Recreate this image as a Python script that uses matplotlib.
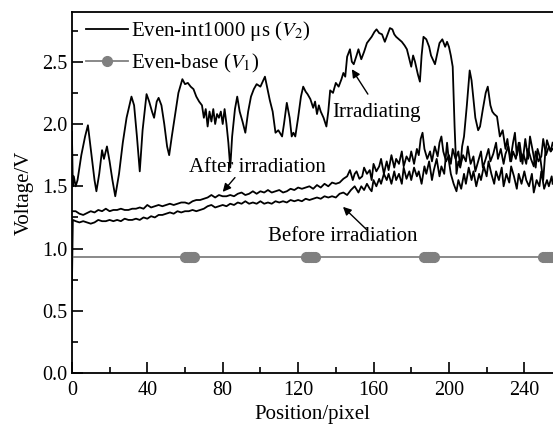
import matplotlib
matplotlib.use('Agg')
import matplotlib.pyplot as plt

plt.rcParams['font.family'] = ['Liberation Serif', 'DejaVu Serif']
plt.rcParams['mathtext.fontset'] = 'stix'

# Irradiating curve, Even-int1000 us (V2)
irr_pos = [0, 0.5, 1, 2, 3, 5, 7, 8.5, 10, 12, 13, 14.5, 16, 17, 18.6, 20, 21.5, 23, 25, 27,
           29, 30.5, 31.6, 33, 34.5, 36, 37.5, 39.6, 41, 42.5, 43.6, 45, 46, 47.5, 49, 50.5, 51.6, 53, 55, 56.5,
           58.6, 60, 61.5, 63, 64.5, 66, 67.5, 69, 70, 71, 72, 73, 74, 75, 76, 77, 78, 79, 80, 81,
           82, 83, 84, 85, 86.5, 87.7, 89, 90.5, 92, 93.5, 95, 96.5, 98, 100, 101.2, 102.4, 103.5, 105, 106.5, 108,
           109.5, 111.5, 112.5, 114, 115.5, 116.6, 117.5, 118.5, 120, 121.5, 122.7, 124, 125, 126.5, 128, 129, 130, 131, 132, 133.5,
           135, 136, 137, 138.5, 140, 141.5, 143, 144, 145, 146, 147.5, 148.5, 149.5, 151, 152, 153.5, 155, 156.5, 158, 159,
           160.5, 161.6, 163, 164.5, 166, 167.5, 168.7, 170, 171, 172, 173.5, 175, 176.5, 177.7, 179, 180, 181, 182, 183.5, 184.6,
           185.5, 186.5, 188, 189.5, 190.5, 192, 192.6, 194, 195, 196.5, 198, 199, 200, 201, 202, 203, 204, 205, 206, 207,
           208, 209.5, 211, 212, 213, 214, 215.5, 216.5, 218, 219.5, 220.6, 222, 223, 224, 225.5, 227, 228.5, 230, 231, 232.5,
           234, 235, 236, 237.5, 239, 240.5, 242, 243, 244.5, 246, 247, 248.5, 250, 251, 252, 253, 254, 255]
irr_v = [1.94, 1.50, 1.58, 1.50, 1.55, 1.75, 1.90, 1.99, 1.80, 1.55, 1.46, 1.60, 1.79, 1.72, 1.82, 1.70, 1.55, 1.42, 1.60, 1.85,
         2.05, 2.15, 2.22, 2.15, 1.90, 1.62, 1.95, 2.24, 2.18, 2.10, 2.05, 2.18, 2.21, 2.15, 2.00, 1.82, 1.75, 1.90, 2.10, 2.25,
         2.36, 2.32, 2.33, 2.30, 2.28, 2.22, 2.18, 2.15, 2.05, 2.12, 1.98, 2.10, 2.02, 2.12, 2.00, 2.08, 2.05, 2.10, 2.00, 2.12,
         2.00, 1.85, 1.65, 1.90, 2.12, 2.22, 2.10, 2.02, 1.93, 2.10, 2.22, 2.28, 2.32, 2.30, 2.34, 2.38, 2.30, 2.19, 2.10, 1.93,
         1.95, 1.90, 2.00, 2.17, 2.05, 1.90, 1.93, 1.90, 2.05, 2.22, 2.30, 2.26, 2.24, 2.20, 2.13, 2.18, 2.08, 2.15, 2.10, 2.05,
         1.98, 2.10, 2.27, 2.25, 2.33, 2.30, 2.36, 2.41, 2.38, 2.54, 2.60, 2.50, 2.48, 2.55, 2.60, 2.52, 2.58, 2.65, 2.68, 2.70,
         2.74, 2.76, 2.73, 2.72, 2.66, 2.72, 2.77, 2.76, 2.72, 2.70, 2.68, 2.66, 2.63, 2.60, 2.52, 2.46, 2.55, 2.50, 2.40, 2.34,
         2.55, 2.70, 2.68, 2.62, 2.55, 2.50, 2.48, 2.58, 2.65, 2.68, 2.62, 2.66, 2.62, 2.55, 2.46, 1.98, 1.60, 1.70, 1.65, 1.82,
         1.90, 2.15, 2.43, 2.35, 2.20, 2.05, 1.95, 1.98, 2.12, 2.25, 2.30, 2.15, 2.10, 2.08, 2.06, 1.90, 1.95, 1.80, 1.88, 1.70,
         1.85, 1.93, 1.75, 1.85, 1.68, 1.88, 1.72, 1.90, 1.78, 1.65, 1.80, 1.72, 1.55, 1.75, 1.87, 1.82, 1.78, 1.85]

# After irradiation
aft_pos = [0, 2, 4, 6, 8, 10, 12, 14, 16, 18, 20, 22, 24, 26, 28, 30, 32, 34, 36, 38,
           40, 42, 44, 46, 48, 50, 52, 54, 56, 58, 60, 62, 64, 66, 68, 70, 72, 74, 76, 78,
           80, 82, 84, 86, 88, 90, 92, 94, 96, 98, 100, 102, 104, 106, 108, 110, 112, 114, 116, 118,
           120, 122, 124, 126, 128, 130, 132, 134, 136, 138, 140, 142, 144, 146, 147.5, 149, 150, 151, 152.5, 154,
           155, 156.5, 158, 159, 160, 161.5, 163, 164, 165.5, 167, 168, 169.5, 171, 172, 173.5, 175, 176, 177.5, 179, 180,
           181.5, 183, 184, 185, 186, 187, 188.5, 190, 191, 192.5, 194, 195, 196, 197, 198.5, 200, 201, 202, 203.5, 205,
           206, 207.5, 209, 210, 211.5, 213, 214, 215.5, 217, 218, 219.5, 221, 222, 223.5, 225, 226, 227.5, 229, 230, 231.5,
           233, 234, 235.5, 237, 238, 239.5, 241, 242, 243.5, 245, 246, 247.5, 249, 250, 251.5, 253, 254, 255]
aft_v = [1.30, 1.30, 1.28, 1.27, 1.285, 1.30, 1.29, 1.31, 1.30, 1.32, 1.30, 1.31, 1.31, 1.32, 1.31, 1.31, 1.32, 1.32, 1.33, 1.32,
         1.35, 1.33, 1.34, 1.35, 1.34, 1.35, 1.36, 1.35, 1.36, 1.37, 1.37, 1.36, 1.38, 1.39, 1.39, 1.40, 1.41, 1.43, 1.41, 1.43,
         1.42, 1.42, 1.43, 1.42, 1.44, 1.45, 1.43, 1.44, 1.46, 1.44, 1.46, 1.45, 1.47, 1.45, 1.46, 1.47, 1.45, 1.46, 1.48, 1.47,
         1.49, 1.48, 1.49, 1.50, 1.48, 1.51, 1.49, 1.52, 1.50, 1.53, 1.52, 1.53, 1.56, 1.58, 1.63, 1.55, 1.60, 1.62, 1.56, 1.58,
         1.65, 1.60, 1.63, 1.55, 1.68, 1.62, 1.66, 1.72, 1.60, 1.70, 1.63, 1.75, 1.65, 1.72, 1.68, 1.78, 1.66, 1.74, 1.70, 1.78,
         1.68, 1.80, 1.75, 1.88, 1.93, 1.80, 1.72, 1.78, 1.70, 1.82, 1.74, 1.85, 1.90, 1.78, 1.70, 1.75, 1.68, 1.80, 1.72, 1.78,
         1.66, 1.75, 1.70, 1.82, 1.68, 1.74, 1.62, 1.70, 1.78, 1.65, 1.72, 1.80, 1.70, 1.76, 1.85, 1.72, 1.80, 1.68, 1.76, 1.82,
         1.70, 1.78, 1.72, 1.85, 1.70, 1.76, 1.68, 1.80, 1.72, 1.66, 1.78, 1.70, 1.74, 1.88, 1.75, 1.82, 1.78, 1.80]

# Before irradiation
bef_pos = [0, 0.5, 2, 4, 6, 8, 10, 12, 14, 16, 18, 20, 22, 24, 26, 28, 30, 32, 34, 36,
           38, 40, 42, 44, 46, 48, 50, 52, 54, 56, 58, 60, 62, 64, 66, 68, 70, 72, 74, 76,
           78, 80, 82, 84, 86, 88, 90, 92, 94, 96, 98, 100, 102, 104, 106, 108, 110, 112, 114, 116,
           118, 120, 122, 124, 126, 128, 130, 132, 134, 136, 138, 140, 142, 144, 146, 148, 150, 152, 153.5, 155,
           156.5, 158, 159, 160, 161.5, 163, 164, 165.5, 167, 168, 169.5, 171, 172, 173.5, 175, 176, 177.5, 179, 180, 181.5,
           183, 184, 185.5, 187, 188, 189.5, 191, 192, 193.5, 195, 196, 197.5, 199, 200, 201, 202.5, 204, 205, 206.5, 208,
           209, 210.5, 212, 213, 214.5, 216, 217, 218.5, 220, 221, 222.5, 224, 225, 226.5, 228, 229, 230.5, 232, 233, 234.5,
           236, 237, 238.5, 240, 241, 242.5, 244, 245, 246.5, 248, 249, 250.5, 252, 253, 254.5, 255]
bef_v = [0.68, 1.23, 1.22, 1.21, 1.22, 1.21, 1.20, 1.21, 1.23, 1.22, 1.22, 1.23, 1.22, 1.23, 1.22, 1.24, 1.23, 1.23, 1.24, 1.23,
         1.25, 1.24, 1.26, 1.25, 1.27, 1.27, 1.28, 1.29, 1.28, 1.30, 1.29, 1.30, 1.30, 1.31, 1.30, 1.31, 1.32, 1.34, 1.35, 1.33,
         1.34, 1.35, 1.34, 1.36, 1.35, 1.37, 1.36, 1.38, 1.36, 1.37, 1.36, 1.38, 1.36, 1.37, 1.36, 1.38, 1.37, 1.38, 1.37, 1.39,
         1.38, 1.39, 1.38, 1.40, 1.39, 1.40, 1.41, 1.40, 1.42, 1.41, 1.42, 1.41, 1.44, 1.45, 1.43, 1.47, 1.50, 1.45, 1.50, 1.47,
         1.52, 1.48, 1.46, 1.55, 1.50, 1.56, 1.52, 1.60, 1.55, 1.60, 1.52, 1.62, 1.55, 1.60, 1.52, 1.65, 1.56, 1.62, 1.55, 1.65,
         1.58, 1.62, 1.52, 1.66, 1.60, 1.70, 1.55, 1.63, 1.72, 1.58, 1.66, 1.60, 1.85, 1.70, 1.60, 1.52, 1.46, 1.55, 1.48, 1.60,
         1.52, 1.65, 1.55, 1.62, 1.50, 1.60, 1.55, 1.66, 1.58, 1.70, 1.60, 1.52, 1.62, 1.55, 1.65, 1.50, 1.60, 1.53, 1.66, 1.58,
         1.48, 1.60, 1.52, 1.62, 1.55, 1.50, 1.60, 1.45, 1.55, 1.50, 1.62, 1.48, 1.55, 1.50, 1.58, 1.52]

# Even-base (V1)
base_pos = [0, 1, 60, 61, 62, 63, 64, 65, 124, 125, 126, 127, 128, 129,
            187, 188, 189, 190, 191, 192, 250, 251, 252, 253, 254, 255]
base_v = [0.93, 0.93, 0.93, 0.93, 0.93, 0.93, 0.93, 0.93, 0.93, 0.93, 0.93, 0.93, 0.93, 0.93,
          0.93, 0.93, 0.93, 0.93, 0.93, 0.93, 0.93, 0.93, 0.93, 0.93, 0.93, 0.93]

fig = plt.figure(figsize=(5.53, 4.25), dpi=100)
ax = fig.add_axes([0.130, 0.122, 0.870, 0.850])

ax.plot(irr_pos, irr_v, color='black', lw=1.3, label=r'Even-int1000 μs ($V_2$)')
ax.plot(aft_pos, aft_v, color='black', lw=1.3)
ax.plot(bef_pos, bef_v, color='black', lw=1.3)
ax.plot(base_pos, base_v, color='#808080', lw=1.3, marker='o', ms=7,
        markevery=list(range(2, len(base_pos))), label=r'Even-base ($V_1$)')

ax.set_xlim(0, 255.2)
ax.set_ylim(0, 2.9)
ax.set_xticks([0, 40, 80, 120, 160, 200, 240])
ax.set_xticks([20, 60, 100, 140, 180, 220], minor=True)
ax.set_yticks([0.0, 0.5, 1.0, 1.5, 2.0, 2.5])
ax.set_yticks([0.25, 0.75, 1.25, 1.75, 2.25, 2.75], minor=True)
ax.set_yticklabels(['0.0', '0.5', '1.0', '1.5', '2.0', '2.5'])
ax.tick_params(which='major', direction='in', length=8, width=1.2, labelsize=14.5)
ax.tick_params(axis='x', which='major', pad=6)
ax.tick_params(axis='y', which='major', pad=3)
ax.tick_params(which='minor', direction='in', length=4, width=1.2)
ax.spines['right'].set_visible(False)
for s in ['left', 'bottom', 'top']:
    ax.spines[s].set_linewidth(1.3)

ax.set_xlabel('Position/pixel', fontsize=15, labelpad=3)
ax.set_ylabel('Voltage/V', fontsize=15, labelpad=6)

ax.legend(loc='upper left', bbox_to_anchor=(0.0, 1.02), frameon=False, fontsize=15,
          handlelength=2.0, handletextpad=0.15, labelspacing=0.4, borderaxespad=0.3)

arrow = dict(arrowstyle='-|>', color='black', lw=1.0, shrinkA=0, shrinkB=0, mutation_scale=12)
ax.annotate('', xy=(148.5, 2.44), xytext=(157, 2.24), arrowprops=arrow)
ax.text(138, 2.09, 'Irradiating', fontsize=15, va='center', ha='left')
ax.annotate('', xy=(80, 1.455), xytext=(86.5, 1.57), arrowprops=arrow)
ax.text(62, 1.65, 'After irradiation', fontsize=15, va='center', ha='left')
ax.annotate('', xy=(143.8, 1.335), xytext=(156.5, 1.15), arrowprops=arrow)
ax.text(104, 1.1, 'Before irradiation', fontsize=15, va='center', ha='left')

fig.savefig('out.png', dpi=100)
